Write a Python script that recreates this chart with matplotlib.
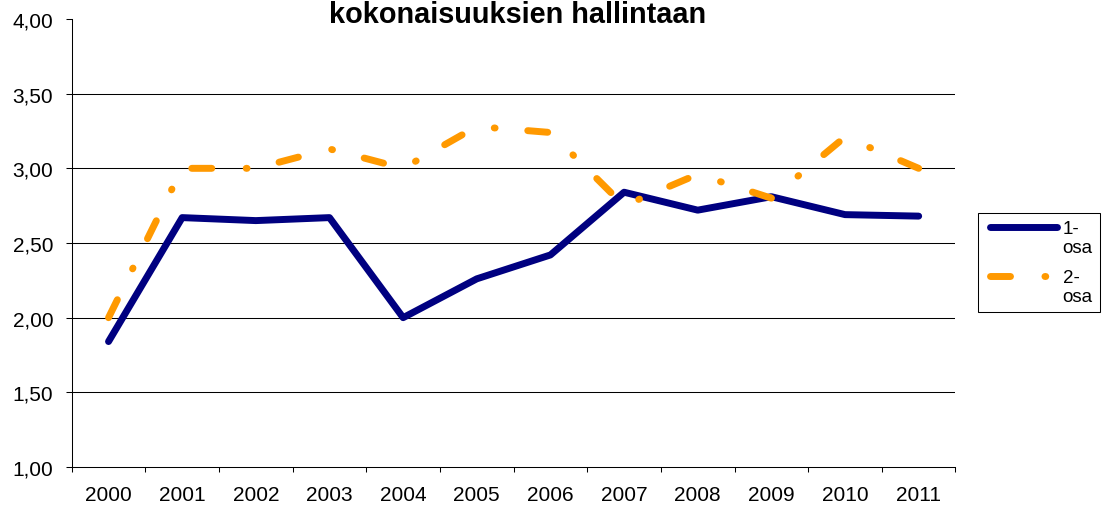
import numpy as np
import matplotlib
matplotlib.use("Agg")
import matplotlib.pyplot as plt
from matplotlib.legend_handler import HandlerLine2D

plt.rcParams['font.family'] = ['Liberation Sans', 'DejaVu Sans']
plt.rcParams['lines.scale_dashes'] = False

# ---- data ----
years = ['2000', '2001', '2002', '2003', '2004', '2005',
         '2006', '2007', '2008', '2009', '2010', '2011']
osa1 = [1.84, 2.67, 2.65, 2.67, 2.00, 2.26, 2.42, 2.84, 2.72, 2.81, 2.69, 2.68]
osa2 = [2.00, 3.00, 3.00, 3.13, 3.00, 3.28, 3.24, 2.75, 2.96, 2.80, 3.21, 3.00]
series_labels = ['1-\nosa', '2-\nosa']
y_ticks = [1.0, 1.5, 2.0, 2.5, 3.0, 3.5, 4.0]
y_tick_labels = ['1,00', '1,50', '2,00', '2,50', '3,00', '3,50', '4,00']
title_text = 'kokonaisuuksien hallintaan'

# ---- figure ----
W, H = 1103, 510
fig = plt.figure(figsize=(W / 100, H / 100), dpi=100)
ax = fig.add_axes([71.7 / W, 42 / H, 883.8 / W, 448 / H])

x = np.arange(len(years))
blue = '#000080'
orange = '#FF9900'

l1, = ax.plot(x, osa1, color=blue, lw=5.0, solid_capstyle='round',
              solid_joinstyle='round', zorder=3)
l2, = ax.plot(x, osa2, color=orange, lw=5.0,
              linestyle=(0, (14.4, 24.8, 0.6, 23.6)),
              dash_capstyle='round', dash_joinstyle='round', zorder=4)

ax.set_xlim(-0.5, len(years) - 0.5)
ax.set_ylim(1.0, 4.0)

ax.set_yticks(y_ticks)
ax.set_yticklabels(y_tick_labels)
ax.set_xticks(x)
ax.set_xticklabels(years)
ax.set_xticks(np.arange(len(years) + 1) - 0.5, minor=True)

ax.tick_params(axis='y', which='major', length=4.3, width=0.75, direction='out',
               pad=9, labelsize=15, colors='black')
ax.tick_params(axis='x', which='major', length=0, pad=13, labelsize=15)
ax.tick_params(axis='x', which='minor', length=3.6, width=0.75, direction='out')

for s in ['top', 'right']:
    ax.spines[s].set_visible(False)
for s in ['left', 'bottom']:
    ax.spines[s].set_color('black')
    ax.spines[s].set_linewidth(0.75)

ax.yaxis.grid(True, color='black', linewidth=0.75, zorder=0)
ax.set_axisbelow(True)
gl = ax.yaxis.get_gridlines()
gl[-1].set_visible(False)
gl[0].set_visible(False)


class ShiftedLineHandler(HandlerLine2D):
    def __init__(self, dx, dy, **kw):
        super().__init__(**kw)
        self.dx, self.dy = dx, dy

    def create_artists(self, legend, orig_handle, xdescent, ydescent,
                       width, height, fontsize, trans):
        arts = super().create_artists(legend, orig_handle, xdescent, ydescent,
                                      width, height, fontsize, trans)
        for a in arts:
            xd = np.asarray(a.get_xdata(), float).copy()
            yd = np.asarray(a.get_ydata(), float)
            if len(xd) >= 2:
                xd[0] = xd[0] + self.dx
            a.set_data(xd, yd + self.dy)
        return arts


fs_leg = 13.5
bp = 0.38
# keep the line start where the reference has it regardless of borderpad
hdl = ShiftedLineHandler(dx=(12.5 - bp * fs_leg / 0.72) * 0.72, dy=8.1)
leg = ax.legend([l1, l2], series_labels, loc='upper left',
                bbox_to_anchor=(977.7 / W, 1 - 213.5 / H),
                bbox_transform=fig.transFigure, borderaxespad=0,
                fontsize=fs_leg, handlelength=3.85, handletextpad=0.3,
                borderpad=bp, labelspacing=0.66, fancybox=False,
                framealpha=1, edgecolor='black',
                handler_map={l1: hdl, l2: hdl})
leg.get_frame().set_linewidth(0.75)

fig.text(518 / W, 1 - 23.3 / H, title_text, ha='center', va='baseline',
         fontsize=20.8, fontweight='bold')

fig.savefig('out.png', dpi=100)
